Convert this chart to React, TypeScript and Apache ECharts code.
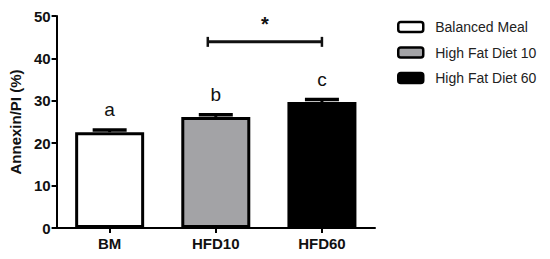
import React, { useEffect, useRef } from "react";
import * as echarts from "echarts";

const categories = ["BM", "HFD10", "HFD60"];
const seriesNames = ["Balanced Meal", "High Fat Diet 10", "High Fat Diet 60"];
const means = [22.6, 26.2, 29.7];
const errors = [0.5, 0.5, 0.6];
const letters = ["a", "b", "c"];
const colors = ["#ffffff", "#a3a3a6", "#000000"];
const yMin = 0;
const yMax = 50;
const yInterval = 10;
// significance bracket: from category index, to category index, height, mark
const bracketFrom = [1];
const bracketTo = [2];
const bracketY = [43.9];
const bracketMark = ["*"];

const FONT = "'Liberation Sans', Arial, sans-serif";

export default function App() {
  const ref = useRef<HTMLDivElement>(null);
  useEffect(() => {
    if (!ref.current) return;
    const chart = echarts.init(ref.current, null, { renderer: "svg" });

    const barSeries = seriesNames.map((name, i) => ({
      name,
      type: "bar",
      data: categories.map((_, j) => (j === i ? means[i] : "-")),
      barGap: "-100%",
      barWidth: 69,
      itemStyle: { color: colors[i], borderColor: "#000", borderWidth: 3 },
      z: 2,
    }));

    const errData = categories.map((_, i) => [i, means[i], errors[i], letters[i]]);

    const option: any = {
      animation: false,
      backgroundColor: "#fff",
      textStyle: { fontFamily: FONT },
      grid: { left: 56, right: 175, top: 16, bottom: 31, containLabel: false },
      legend: {
        data: seriesNames,
        orient: "vertical",
        left: 392,
        top: 15,
        itemWidth: 25,
        itemHeight: 10,
        itemGap: 11.5,
        icon: "roundRect",
        itemStyle: { borderColor: "#000", borderWidth: 2.5 },
        textStyle: { fontFamily: FONT, fontSize: 14, color: "#222", padding: [0, 0, 0, 7] },
        selectedMode: false,
      },
      xAxis: {
        type: "category",
        data: categories,
        axisLine: { lineStyle: { color: "#000", width: 2 } },
        axisTick: { show: true, alignWithLabel: true, length: 5, lineStyle: { color: "#000", width: 2 } },
        axisLabel: { fontFamily: FONT, fontSize: 15, fontWeight: "bold", color: "#111", margin: 8 },
      },
      yAxis: {
        type: "value",
        min: yMin,
        max: yMax,
        interval: yInterval,
        name: "Annexin/PI (%)",
        nameLocation: "middle",
        nameGap: 32,
        nameTextStyle: { fontFamily: FONT, fontSize: 15, fontWeight: "bold", color: "#111" },
        axisLine: { show: true, lineStyle: { color: "#000", width: 2 } },
        axisTick: { show: true, length: 5, lineStyle: { color: "#000", width: 2 } },
        axisLabel: { fontFamily: FONT, fontSize: 15, fontWeight: "bold", color: "#111", margin: 6 },
        splitLine: { show: false },
      },
      series: [
        ...barSeries,
        {
          type: "custom",
          name: "errors",
          data: errData,
          z: 5,
          renderItem: (params: any, api: any) => {
            const x = api.value(0);
            const y = api.value(1);
            const e = api.value(2);
            const letter = letters[params.dataIndex];
            const base = api.coord([x, y]);
            const top = api.coord([x, y + e]);
            return {
              type: "group",
              children: [
                { type: "line", shape: { x1: base[0], y1: base[1], x2: top[0], y2: top[1] }, style: { stroke: "#000", lineWidth: 3 } },
                { type: "line", shape: { x1: top[0] - 17, y1: top[1], x2: top[0] + 17, y2: top[1] }, style: { stroke: "#000", lineWidth: 3.5 } },
                {
                  type: "text",
                  x: top[0],
                  y: top[1] - 11,
                  style: { text: letter, fill: "#111", font: `19px ${FONT}`, textAlign: "center", textVerticalAlign: "bottom" },
                },
              ],
            };
          },
        },
        {
          type: "custom",
          name: "bracket",
          data: bracketFrom.map((f, i) => [f, bracketTo[i], bracketY[i]]),
          z: 5,
          renderItem: (params: any, api: any) => {
            const p1 = api.coord([api.value(0), api.value(2)]);
            const p2 = api.coord([api.value(1), api.value(2)]);
            const x1 = p1[0] - 8;
            const x2 = p2[0];
            const y = p1[1];
            return {
              type: "group",
              children: [
                { type: "line", shape: { x1, y1: y, x2, y2: y }, style: { stroke: "#111", lineWidth: 3 } },
                { type: "line", shape: { x1, y1: y - 5, x2: x1, y2: y + 5 }, style: { stroke: "#111", lineWidth: 2.5 } },
                { type: "line", shape: { x1: x2, y1: y - 5, x2, y2: y + 5 }, style: { stroke: "#111", lineWidth: 2.5 } },
                {
                  type: "text",
                  x: (x1 + x2) / 2,
                  y: y - 8,
                  style: { text: bracketMark[params.dataIndex], fill: "#111", font: `bold 20px ${FONT}`, textAlign: "center", textVerticalAlign: "bottom" },
                },
              ],
            };
          },
        },
      ],
    };
    chart.setOption(option);
    return () => chart.dispose();
  }, []);
  return <div ref={ref} style={{ position: "fixed", left: 0, top: 0, width: 550, height: 259 }} />;
}
